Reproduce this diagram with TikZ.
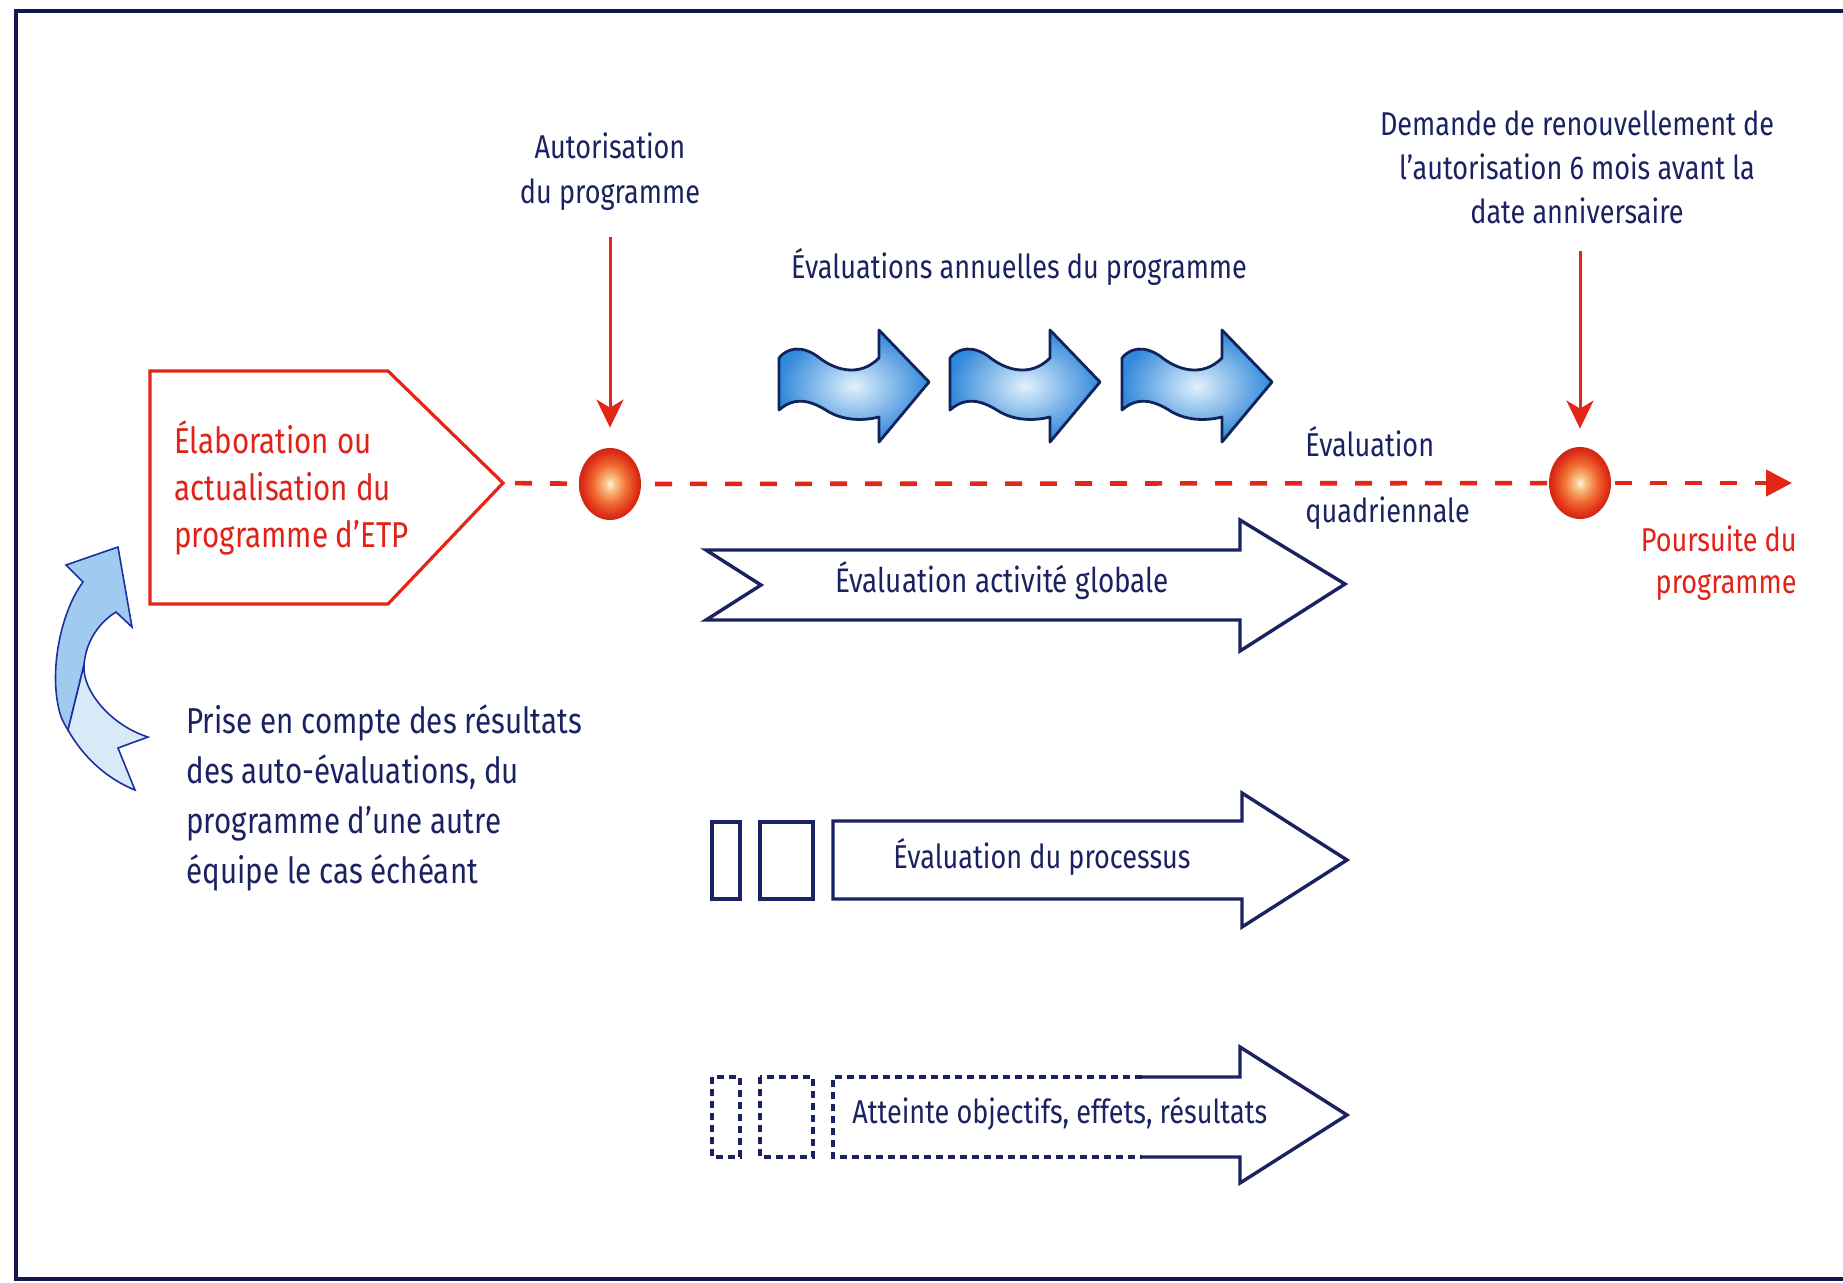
\documentclass[tikz,border=0pt]{standalone}
\usepackage{fontspec}
\setmainfont{Fira Sans}[FakeStretch=0.82]
\usetikzlibrary{arrows.meta,shapes.geometric}
\definecolor{navy}{RGB}{27,34,98}
\definecolor{framec}{RGB}{18,24,78}
\definecolor{redc}{RGB}{228,38,24}
\definecolor{redtext}{RGB}{226,34,22}
\definecolor{wavyline}{RGB}{16,36,92}
\definecolor{wavyin}{RGB}{224,241,252}
\definecolor{wavyout}{RGB}{50,136,218}
\definecolor{curvline}{RGB}{30,48,160}
\definecolor{curvdark}{RGB}{160,202,240}
\definecolor{curvlight}{RGB}{216,233,248}
\definecolor{ballA}{RGB}{255,246,228}
\definecolor{ballB}{RGB}{250,196,140}
\definecolor{ballC}{RGB}{240,112,52}
\definecolor{ballD}{RGB}{226,52,26}
\definecolor{ballE}{RGB}{205,38,20}
\pgfdeclareradialshading{redball}{\pgfpoint{0bp}{0bp}}{color(0bp)=(ballA); color(4bp)=(ballB); color(13bp)=(ballC); color(21bp)=(ballD); color(25bp)=(ballE); color(50bp)=(ballE)}
\tikzset{
  txt/.style={font=\fontsize{16.5}{24}\selectfont, text=navy, inner sep=0pt},
  redtxt/.style={txt, text=redtext},
  oneline/.style={text height=12.4pt, text depth=4.1pt},
  bigarrow/.style={draw=navy, line width=1.7pt, line join=miter},
  smallbox/.style={draw=navy, line width=1.7pt},
  dotbox/.style={draw=navy, line width=1.7pt, dash pattern=on 3.5pt off 2.5pt},
  reddash/.style={draw=redc, line width=2.3pt, dash pattern=on 8.5pt off 9pt},
  redarr/.style={draw=redc, line width=1.5pt, -{Stealth[length=14pt,width=13.5pt,inset=4pt]}},
  ball/.style={ellipse, minimum width=31pt, minimum height=36pt, inner sep=0pt, shading=redball},
  wavyarrow/.pic={
    \shadedraw[draw=wavyline, line width=1.4pt, line join=round, inner color=wavyin, outer color=wavyout]
      (0,28) .. controls (8,18) and (22,15) .. (38,26) .. controls (55,40) and (80,48) .. (100,28)
      -- (100,0) -- (150,52) -- (100,112) -- (100,87)
      .. controls (88,90) and (68,92) .. (50,82) .. controls (36,73) and (18,64) .. (0,80) -- cycle;
  }
}
\begin{document}
\begin{tikzpicture}[x=0.5pt,y=-0.5pt]
\useasboundingbox (0,0) rectangle (1843,1282);
\fill[white] (0,0) rectangle (1843,1282);
% frame
\draw[framec, line width=2.3pt] (1843,11) -- (16,11) -- (16,1279) -- (1843,1279);

% pentagon
\coordinate (ptip) at (503,483);
\draw[draw=redc, line width=1.6pt, line join=miter] (150,371) -- (388,371) -- (ptip) -- (388,604) -- (150,604) -- cycle;
\node[redtxt, align=left, anchor=west, font=\fontsize{18}{23.5}\selectfont] (elab) at (174,488) {Élaboration ou\\actualisation du\\programme d’ETP};

% timeline
\coordinate (c1p) at (610,484);
\coordinate (c2p) at (1580,483);
\coordinate (endp) at (1792,483);
\draw[reddash, shorten <=6pt] (ptip) -- (c1p) -- (c2p);
\draw[reddash, -{Triangle[length=13pt,width=13pt]}] (c2p) -- (endp);
\node[ball, shade] (c1) at (c1p) {};
\node[ball, shade] (c2) at (c2p) {};

% top labels and red arrows
\node[txt, align=center, font=\fontsize{16.5}{22.5}\selectfont] (auto) at (610,172) {Autorisation\\du programme};
\node[txt, align=center, font=\fontsize{16.5}{22}\selectfont] (dem) at (1577,167) {Demande de renouvellement de\\l’autorisation 6 mois avant la\\date anniversaire};
\coordinate (a1s) at (610,237);
\coordinate (a2s) at (1580,251);
\draw[redarr, shorten >=10pt] (a1s) -- (c1.north);
\draw[redarr, shorten >=9pt] (a2s) -- (c2.north);

% annual evaluations
\node[txt, oneline] (annu) at (1019,270) {Évaluations annuelles du programme};
\pic at (779,330) {wavyarrow};
\pic at (950,330) {wavyarrow};
\pic at (1122,330) {wavyarrow};

% quadriennale
\node[txt, oneline, anchor=west] (evq1) at (1305,448) {Évaluation};
\node[txt, oneline, anchor=west] (evq2) at (1305,514) {quadriennale};
\node[redtxt, align=right, anchor=east, font=\fontsize{16.5}{21}\selectfont] (pours) at (1797,563) {Poursuite du\\programme};

% big arrow 1
\draw[bigarrow] (706,550) -- (1240,550) -- (1240,520) -- (1345,584) -- (1240,651) -- (1240,620) -- (706,620) -- (761,585) -- cycle;
\node[txt, oneline, font=\fontsize{17}{24}\selectfont] (glob) at (1002,584) {Évaluation activité globale};

% big arrow 2
\draw[smallbox] (712,822) rectangle (740,899);
\draw[smallbox] (760,822) rectangle (813,899);
\draw[bigarrow] (833,821) -- (1242,821) -- (1242,793) -- (1347,860) -- (1242,927) -- (1242,899) -- (833,899) -- cycle;
\node[txt, oneline] (proc) at (1042,860) {Évaluation du processus};

% big arrow 3
\draw[dotbox] (712,1077) rectangle (740,1157);
\draw[dotbox] (760,1077) rectangle (813,1157);
\draw[dotbox] (1142,1077) -- (833,1077) -- (833,1157) -- (1142,1157);
\draw[bigarrow] (1142,1157) -- (1240,1157) -- (1240,1183) -- (1347,1115) -- (1240,1047) -- (1240,1077) -- (1142,1077);
\node[txt, oneline, anchor=west] (att) at (852,1115) {Atteinte objectifs, effets, résultats};

% curved feedback arrow
\filldraw[fill=curvdark, draw=curvline, line width=0.8pt, line join=miter]
  (118,547) -- (132,627) -- (116,612) .. controls (100,622) and (86,640) .. (84,665)
  -- (68,730) .. controls (63,722) and (60,716) .. (58,705) .. controls (50,665) and (62,610) .. (83,582)
  -- (66,565) -- cycle;
\filldraw[fill=curvlight, draw=curvline, line width=0.8pt, line join=miter]
  (84,665) .. controls (82,690) and (110,725) .. (148,737) -- (118,748) -- (135,790)
  .. controls (105,778) and (82,755) .. (68,730) -- cycle;
\node[txt, align=left, anchor=west, font=\fontsize{18}{25}\selectfont] (prise) at (186,798) {Prise en compte des résultats\\des auto-évaluations, du\\programme d’une autre\\équipe le cas échéant};
\end{tikzpicture}
\end{document}
